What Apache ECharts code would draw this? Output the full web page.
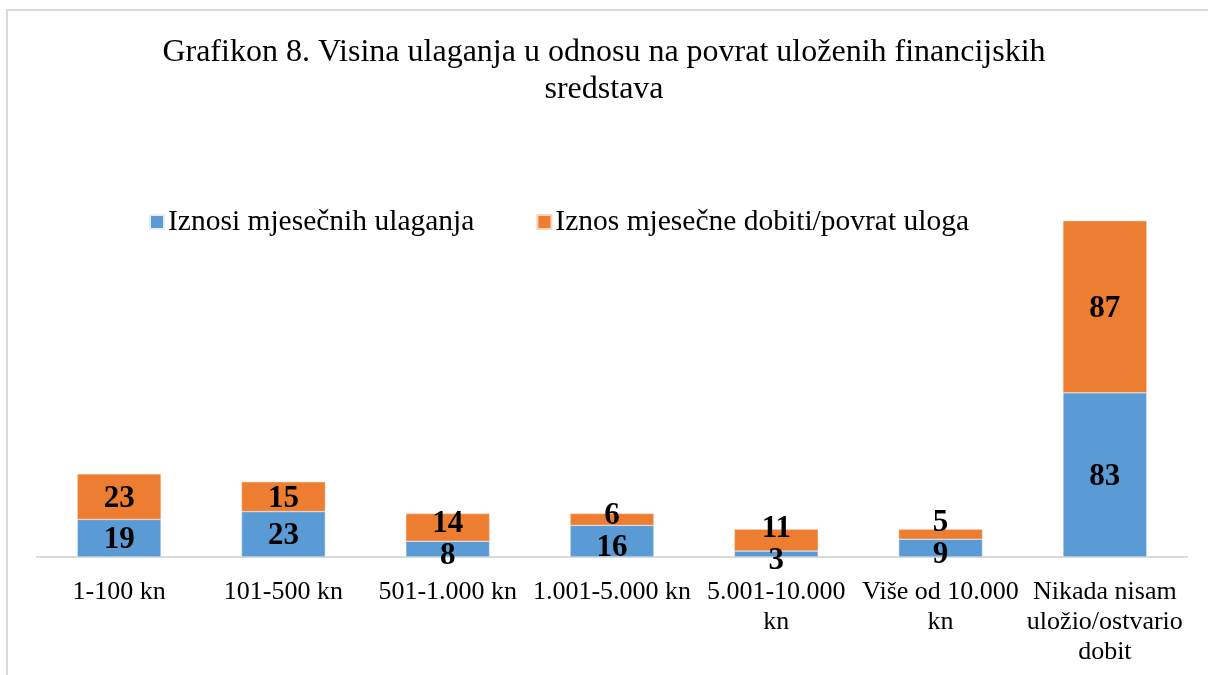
<!DOCTYPE html>
<html><head><meta charset="utf-8">
<script src="https://cdn.jsdelivr.net/npm/echarts@6/dist/echarts.min.js"></script>
<style>
html,body{margin:0;padding:0;background:#fff;}
#frame{position:absolute;left:6px;top:9px;width:1220px;height:700px;border:2px solid #d9d9d9;box-sizing:border-box;}
#c{position:absolute;left:0;top:0;width:1208px;height:675px;}
</style></head>
<body>
<div id="frame"></div>
<div id="c"></div>
<script>
const categories = ['1-100 kn','101-500 kn','501-1.000 kn','1.001-5.000 kn','5.001-10.000\nkn','Više od 10.000\nkn','Nikada nisam\nuložio/ostvario\ndobit'];
const seriesNames = ['Iznosi mjesečnih ulaganja','Iznos mjesečne dobiti/povrat uloga'];
const ulaganja = [19,23,8,16,3,9,83];
const dobit = [23,15,14,6,11,5,87];

const font = '"Liberation Serif","Times New Roman",serif';
const chart = echarts.init(document.getElementById('c'));
const lbl = {show:true, position:'inside', color:'#000', fontFamily:font, fontWeight:'bold', fontSize:31};
const MIN_GAP = 32;
function layoutFn(params){
  const i = params.dataIndex, s = params.seriesIndex;
  const v = s === 0 ? ulaganja[i] : dobit[i];
  const k = v ? params.rect.height / v : 0;
  const dist = k * (ulaganja[i] + dobit[i]) / 2;
  const need = Math.max(0, MIN_GAP - dist);
  const down = Math.min(need / 2, 5);
  const up = need - down;
  return {dy: (s === 0 ? down : -up) + 2};
}
chart.setOption({
  animation:false,
  title:{text:'Grafikon 8. Visina ulaganja u odnosu na povrat uloženih financijskih\nsredstava', left:'center', top:29,
    textStyle:{fontFamily:font, fontWeight:'normal', fontSize:32, color:'#000', lineHeight:37}},
  legend:{top:202, left:144, itemWidth:14, itemHeight:14, itemGap:62, icon:'rect',
    textStyle:{fontFamily:font, fontSize:29.5, color:'#000', padding:[0,0,0,-1]}, data:seriesNames},
  grid:{left:37, right:21, top:201, bottom:118, containLabel:false},
  xAxis:{type:'category', data:categories,
    axisLine:{lineStyle:{color:'#d9d9d9', width:2}}, axisTick:{show:false},
    axisLabel:{fontFamily:font, fontSize:26, color:'#000', margin:20, lineHeight:30, interval:0}},
  yAxis:{type:'value', min:0, max:180, show:false, splitLine:{show:false}},
  series:[
    {name:seriesNames[0], type:'bar', stack:'a', data:ulaganja, barWidth:'51%',
      itemStyle:{color:'#5b9bd5', borderColor:'#e8eef7', borderWidth:0.5}, label:lbl, labelLayout:layoutFn},
    {name:seriesNames[1], type:'bar', stack:'a', data:dobit, barWidth:'51%',
      itemStyle:{color:'#ed7d31', borderColor:'#f6d5c0', borderWidth:0.5}, label:lbl, labelLayout:layoutFn}
  ]
});
</script>
</body></html>
